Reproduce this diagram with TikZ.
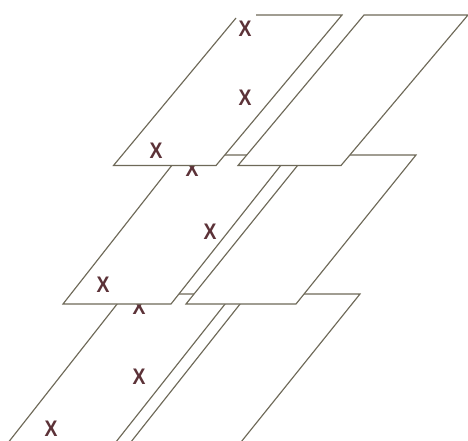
\documentclass[tikz,border=0pt]{standalone}
\usepackage{fontspec}
\setmainfont{Liberation Sans}
\definecolor{panelline}{HTML}{6E6958}
\definecolor{markx}{HTML}{5C3238}
\newcommand{\crossmark}{\scalebox{0.86}[1]{X}}
\tikzset{
  panel/.style={draw=panelline,line width=1.15pt,fill=white,line join=miter},
  cover/.style={fill=white,draw=none},
  edgeline/.style={draw=panelline,line width=1.15pt},
  markx/.style={text=markx,inner sep=0pt,font=\fontsize{22.5}{22.5}\selectfont\bfseries}
}
\begin{document}
\begin{tikzpicture}[x=1pt,y=-1pt]
\useasboundingbox (0,0) rectangle (468,441);
\clip (0,0) rectangle (468,441);
% bottom row
\fill[cover] (125,294) -- (233,294) -- (108,452) -- (0,452) -- cycle;
\draw[edgeline] (0,453) -- (125,294) -- (233,294) -- (108,452);
\node[markx] (x7) at (139,307) {\crossmark};
\node[markx] (x8) at (139,377) {\crossmark};
\node[markx] (x9) at (51,429) {\crossmark};
\path[panel] (123,452) -- (248,294) -- (360,294) -- (233,452);
% middle row
\path[panel] (180,155) -- (289,155) -- (171,304) -- (63,304) -- cycle;
\node[markx] (x4) at (192,169) {\crossmark};
\node[markx] (x5) at (210,232) {\crossmark};
\node[markx] (x6) at (103,285) {\crossmark};
\path[panel] (306,155) -- (416,155) -- (296,304) -- (186,304) -- cycle;
% top row
\fill[cover] (238.5,15) -- (342,15) -- (216,165.5) -- (113.5,165.5) -- cycle;
\draw[edgeline] (256,15) -- (342,15) -- (216,165.5) -- (113.5,165.5) -- (236,18);
\node[markx] (x1) at (245,29) {\crossmark};
\node[markx] (x2) at (245,98) {\crossmark};
\node[markx] (x3) at (156,151) {\crossmark};
\path[panel] (364,15) -- (468,15) -- (341,165.5) -- (238,165.5) -- cycle;
\end{tikzpicture}
\end{document}
